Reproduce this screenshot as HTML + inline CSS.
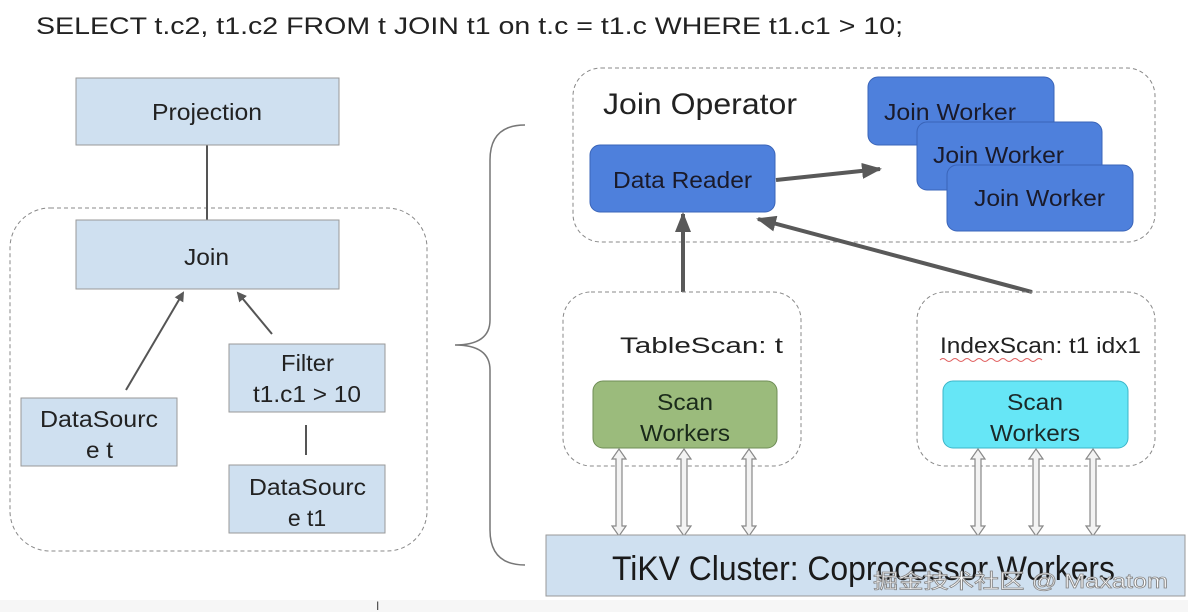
<!DOCTYPE html>
<html><head><style>body{margin:0;background:#fff}svg{display:block}</style></head><body>
<svg width="1188" height="612" xmlns="http://www.w3.org/2000/svg" font-family="Liberation Sans, sans-serif">
<defs>
<marker id="ah" markerWidth="10" markerHeight="10" refX="8" refY="5" orient="auto" markerUnits="userSpaceOnUse"><path d="M0,0 L10,5 L0,10z" fill="#595959"/></marker>
<marker id="ah2" markerWidth="20" markerHeight="16" refX="18" refY="8" orient="auto" markerUnits="userSpaceOnUse"><path d="M0,0 L20,8 L0,16z" fill="#595959"/></marker>
<g id="dbl"><path d="M0,0 L7,10 L3,10 L3,77 L7,77 L0,87 L-7,77 L-3,77 L-3,10 L-7,10z" fill="#f3f3f3" stroke="#888" stroke-width="1.2"/></g>
</defs>
<rect width="1188" height="612" fill="#fff"/>
<rect x="0" y="600" width="1188" height="12" fill="#f6f6f6"/>
<text x="36" y="34" font-size="24" fill="#222" textLength="867" lengthAdjust="spacingAndGlyphs">SELECT t.c2, t1.c2 FROM t JOIN  t1 on t.c = t1.c WHERE t1.c1 &gt; 10;</text>
<!-- left -->
<rect x="10" y="208" width="417" height="343" rx="40" fill="none" stroke="#888" stroke-dasharray="4,3"/>
<line x1="207" y1="145" x2="207" y2="220" stroke="#555" stroke-width="2"/>
<rect x="76" y="78" width="263" height="67" fill="#cfe0f0" stroke="#999"/>
<text x="152" y="120" font-size="23" fill="#222" textLength="110" lengthAdjust="spacingAndGlyphs">Projection</text>
<rect x="76" y="220" width="263" height="69" fill="#cfe0f0" stroke="#999"/>
<text x="184" y="265" font-size="23" fill="#222" textLength="45" lengthAdjust="spacingAndGlyphs">Join</text>
<line x1="126" y1="390" x2="183" y2="293" stroke="#555" stroke-width="2" marker-end="url(#ah)"/>
<line x1="272" y1="334" x2="238" y2="293" stroke="#555" stroke-width="2" marker-end="url(#ah)"/>
<rect x="229" y="344" width="156" height="68" fill="#cfe0f0" stroke="#999"/>
<text x="281" y="371" font-size="23" fill="#222" textLength="53" lengthAdjust="spacingAndGlyphs">Filter</text>
<text x="253" y="402" font-size="23" fill="#222" textLength="108" lengthAdjust="spacingAndGlyphs">t1.c1 &gt; 10</text>
<rect x="21" y="398" width="156" height="68" fill="#cfe0f0" stroke="#999"/>
<text x="40" y="427" font-size="23" fill="#222" textLength="118" lengthAdjust="spacingAndGlyphs">DataSourc</text>
<text x="86" y="458" font-size="23" fill="#222" textLength="27" lengthAdjust="spacingAndGlyphs">e t</text>
<line x1="306" y1="425" x2="306" y2="455" stroke="#555" stroke-width="2"/>
<rect x="229" y="465" width="156" height="68" fill="#cfe0f0" stroke="#999"/>
<text x="249" y="495" font-size="23" fill="#222" textLength="117" lengthAdjust="spacingAndGlyphs">DataSourc</text>
<text x="307" y="526" font-size="23" text-anchor="middle" fill="#222">e t1</text>
<!-- brace -->
<path d="M525,125 Q490,125 490,160 L490,320 Q490,345 455,345 Q490,345 490,370 L490,530 Q490,565 525,565" fill="none" stroke="#777" stroke-width="1.5"/>
<!-- join operator -->
<rect x="573" y="68" width="582" height="174" rx="28" fill="none" stroke="#888" stroke-dasharray="4,3"/>
<text x="603" y="114" font-size="30" fill="#222" textLength="194" lengthAdjust="spacingAndGlyphs">Join Operator</text>
<rect x="590" y="145" width="185" height="67" rx="10" fill="#4e80dc" stroke="#3a64b8"/>
<text x="613" y="188" font-size="23" fill="#1a1a2a" textLength="139" lengthAdjust="spacingAndGlyphs">Data Reader</text>
<rect x="868" y="77" width="186" height="68" rx="10" fill="#4e80dc" stroke="#3a64b8"/>
<text x="884" y="120" font-size="23" fill="#1a1a2a" textLength="132" lengthAdjust="spacingAndGlyphs">Join Worker</text>
<rect x="917" y="122" width="185" height="68" rx="10" fill="#4e80dc" stroke="#3a64b8"/>
<text x="933" y="163" font-size="23" fill="#1a1a2a" textLength="131" lengthAdjust="spacingAndGlyphs">Join Worker</text>
<rect x="947" y="165" width="186" height="66" rx="10" fill="#4e80dc" stroke="#3a64b8"/>
<text x="974" y="206" font-size="23" fill="#1a1a2a" textLength="131" lengthAdjust="spacingAndGlyphs">Join Worker</text>
<line x1="776" y1="180" x2="880" y2="169" stroke="#595959" stroke-width="4" marker-end="url(#ah2)"/>
<line x1="683" y1="292" x2="683" y2="214" stroke="#595959" stroke-width="4" marker-end="url(#ah2)"/>
<line x1="1032" y1="292" x2="758" y2="219" stroke="#595959" stroke-width="4" marker-end="url(#ah2)"/>
<!-- scans -->
<rect x="563" y="292" width="238" height="174" rx="28" fill="none" stroke="#888" stroke-dasharray="4,3"/>
<rect x="917" y="292" width="238" height="174" rx="28" fill="none" stroke="#888" stroke-dasharray="4,3"/>
<text x="620" y="353" font-size="22" fill="#222" textLength="163" lengthAdjust="spacingAndGlyphs">TableScan: t</text>
<text x="940" y="353" font-size="22" fill="#222" textLength="201" lengthAdjust="spacingAndGlyphs">IndexScan: t1 idx1</text>
<path d="M940,360 q3,-3 6,0 t6,0 t6,0 t6,0 t6,0 t6,0 t6,0 t6,0 t6,0 t6,0 t6,0 t6,0 t6,0 t6,0 t6,0 t6,0 t6,0" fill="none" stroke="#e06060" stroke-width="1"/>
<rect x="593" y="381" width="184" height="67" rx="10" fill="#9bbb7c" stroke="#6f8d56"/>
<text x="657" y="410" font-size="23" fill="#1a2a1a" textLength="56" lengthAdjust="spacingAndGlyphs">Scan</text>
<text x="640" y="441" font-size="23" fill="#1a2a1a" textLength="90" lengthAdjust="spacingAndGlyphs">Workers</text>
<rect x="943" y="381" width="185" height="67" rx="10" fill="#66e6f6" stroke="#3cb5c8"/>
<text x="1007" y="410" font-size="23" fill="#1a2a2a" textLength="56" lengthAdjust="spacingAndGlyphs">Scan</text>
<text x="990" y="441" font-size="23" fill="#1a2a2a" textLength="90" lengthAdjust="spacingAndGlyphs">Workers</text>
<use href="#dbl" x="619" y="449"/><use href="#dbl" x="684" y="449"/><use href="#dbl" x="749" y="449"/>
<use href="#dbl" x="978" y="449"/><use href="#dbl" x="1036" y="449"/><use href="#dbl" x="1093" y="449"/>
<rect x="546" y="535" width="639" height="61" fill="#cfe0f0" stroke="#999"/>
<text x="612" y="580" font-size="34" fill="#1a1a1a" textLength="503" lengthAdjust="spacingAndGlyphs">TiKV Cluster: Coprocessor Workers</text>
<text x="873" y="588" font-size="20" fill="#fff" stroke="#888" stroke-width="0.8" font-family="Liberation Sans, Noto Sans CJK SC, sans-serif" textLength="295" lengthAdjust="spacingAndGlyphs">掘金技术社区 @ Maxatom</text>
<text x="376" y="610" font-size="12" fill="#444">I</text>
</svg>
</body></html>
